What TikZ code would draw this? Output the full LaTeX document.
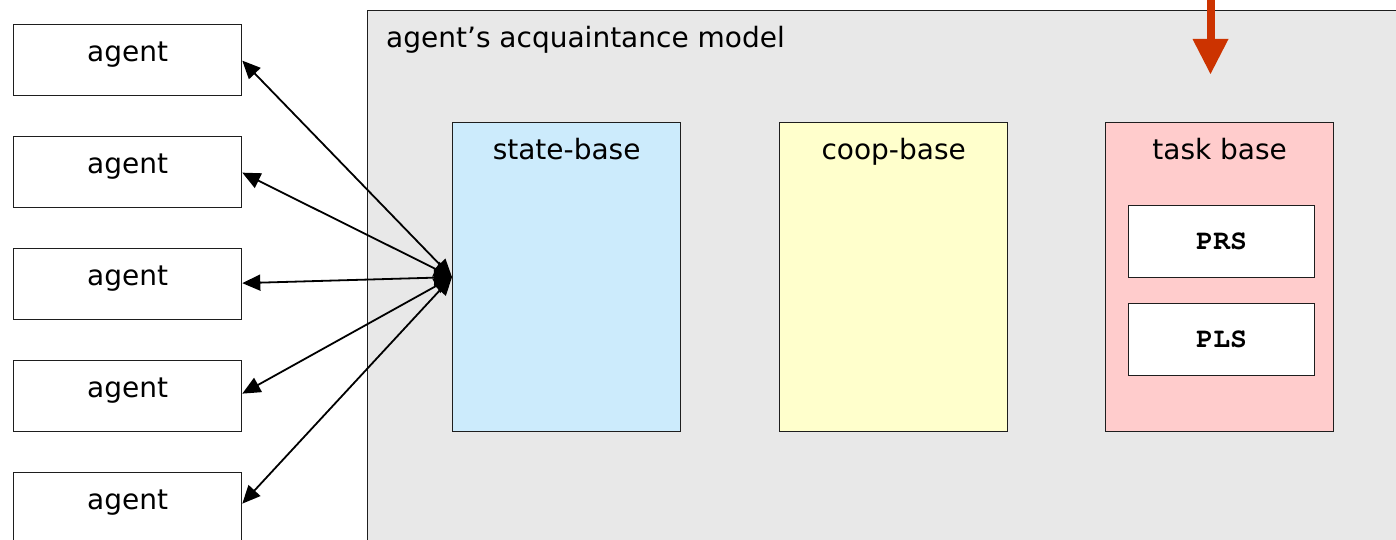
\documentclass[tikz,border=0pt]{standalone}
\usepackage{fontspec}
\setmainfont{DejaVu Sans}
\newfontfamily\codefont{texgyrecursor}[Extension=.otf,UprightFont=*-regular,BoldFont=*-bold]
\usetikzlibrary{arrows.meta,calc}

\definecolor{modelgray}{RGB}{232,232,232}
\definecolor{statefill}{RGB}{204,235,252}
\definecolor{coopfill}{RGB}{255,255,204}
\definecolor{taskfill}{RGB}{255,204,204}
\definecolor{inarrow}{RGB}{204,51,0}
\definecolor{edge}{RGB}{30,30,30}

\begin{document}
\begin{tikzpicture}[x=1pt,y=-1pt,
  box/.style={draw=edge, line width=1.3pt, rectangle, inner sep=0pt, anchor=north west},
  agentbox/.style={box, fill=white, minimum width=228pt, minimum height=71pt},
  basebox/.style={box, minimum width=228pt, minimum height=309pt},
  planbox/.style={box, fill=white, minimum width=186pt, minimum height=72pt,
    font=\codefont\bfseries\fontsize{28}{32}\selectfont},
  lbl/.style={anchor=base, inner sep=0pt, font=\fontsize{28}{34}\selectfont},
  link/.style={draw=black, line width=1.8pt,
    {Triangle[length=18pt,width=16pt]}-{Triangle[length=18pt,width=16pt]}},
  feed/.style={draw=inarrow, line width=8pt,
    -{Triangle[length=35pt,width=36pt,line width=0pt]}}
]
\useasboundingbox (0,0) rectangle (1396,540);
\fill[white] (0,0) rectangle (1396,540);
\clip (0,0) rectangle (1396,540);

% the agents
\foreach \i/\y in {1/24,2/136,3/248,4/360,5/472}{
  \node[agentbox] (a\i) at (13,\y) {};
  \node[lbl] at ($(a\i.north)+(0,37.5)$) {agent};
}

% the acquaintance model
\node[box, fill=modelgray, minimum width=1040pt, minimum height=560pt] (am) at (367,10) {};
\node[lbl, anchor=base west] at ($(am.north west)+(19,38)$) {agent’s acquaintance model};

\node[basebox, fill=statefill] (sb) at (452,122) {};
\node[lbl] at ($(sb.north)+(0,37.5)$) {state-base};
\node[basebox, fill=coopfill] (cb) at (779,122) {};
\node[lbl] at ($(cb.north)+(0,37.5)$) {coop-base};
\node[basebox, fill=taskfill] (tb) at (1105,122) {};
\node[lbl] at ($(tb.north)+(0,37.5)$) {task base};

\node[planbox] (prs) at (1128,205) {PRS};
\node[planbox] (pls) at (1128,303) {PLS};

% links between the state base and the agents
\draw[link] (sb.west) -- ($(a1.east)+(0,0.5)$);
\draw[link] (sb.west) -- ($(a2.east)+(0,0.5)$);
\draw[link] (sb.west) -- ($(a3.east)+(0,-1)$);
\draw[link] (sb.west) -- ($(a4.east)+(0,-2.5)$);
\draw[link] (sb.west) -- ($(a5.east)+(0,-4.5)$);

% incoming arrow into the task base
\coordinate (feedtop) at (1210.5,-4);
\coordinate (feedtip) at (1210.5,74);
\draw[feed] (feedtop) -- (feedtip);
\end{tikzpicture}
\end{document}
